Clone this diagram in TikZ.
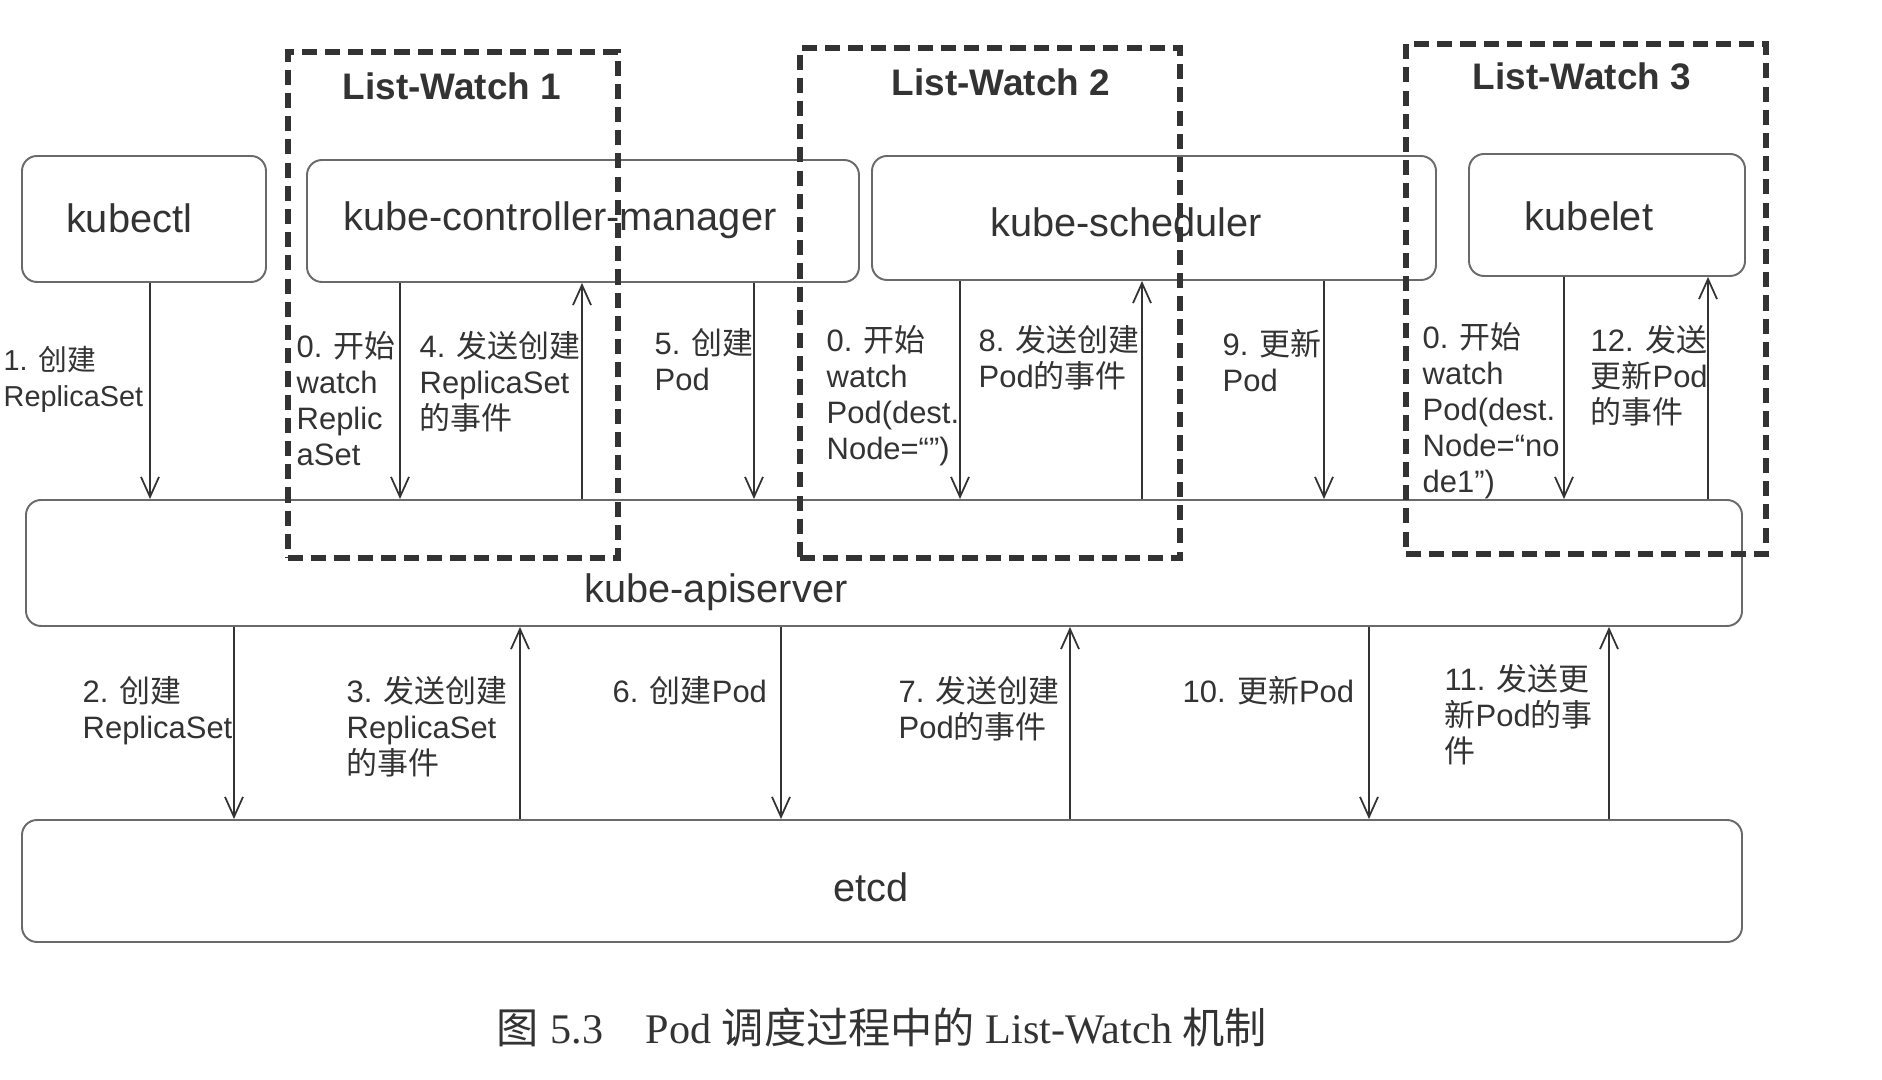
\documentclass[tikz,border=0pt]{standalone}
\usepackage{fontspec}
\setmainfont{Liberation Sans}
\newfontfamily\cjk{Noto Sans CJK SC}
\newfontfamily\capserif{Liberation Serif}
\usetikzlibrary{arrows.meta,fit}
\newcommand\zh[1]{{\cjk #1}}
\definecolor{ink}{HTML}{333333}
\definecolor{edge}{HTML}{6A6A6A}
\begin{document}
\begin{tikzpicture}[x=0.01cm,y=-0.01cm,
  box/.style={draw=edge, line width=0.55pt, rounded corners=0.15cm, inner sep=0pt},
  lwbox/.style={draw=ink, line width=1.5pt, dash pattern=on 4.3pt off 2.3pt, inner sep=0pt},
  main/.style={font=\fontsize{11.3pt}{13pt}\selectfont, text=ink, inner sep=0pt},
  title/.style={font=\fontsize{10.5pt}{12pt}\selectfont\bfseries, text=ink, inner sep=0pt},
  lbl/.style={font=\fontsize{8.8pt}{10.2pt}\selectfont, text=ink, align=left, inner sep=0pt, anchor=north west},
  arr/.style={draw=ink, line width=0.5pt, -{Straight Barb[length=0.2cm,width=0.18cm]}},
]
\fill[white] (0,0) rectangle (1882,1080);
\useasboundingbox (0,0) rectangle (1882,1080);

% component boxes
\node[box, fit={(22,156) (266,282)}] (kubectl) {};
\node[box, fit={(307,160) (859,282)}] (cm) {};
\node[box, fit={(872,156) (1436,280)}] (sched) {};
\node[box, fit={(1469,154) (1745,276)}] (kubelet) {};
\node[box, fit={(26,500) (1742,626)}] (api) {};
\node[box, fit={(22,820) (1742,942)}] (etcd) {};

% component names
\node[main] (t-kubectl) at (129,218) {kubectl};
\node[main] (t-cm) at (560,220) {kube-controller-manager};
\node[main] (t-sched) at (1126,222) {kube-scheduler};
\node[main] (t-kubelet) at (1589,216) {kubelet};
\node[main] (t-api) at (716,592) {kube-apiserver};
\node[main] (t-etcd) at (871,887) {etcd};

% upper arrows
\draw[arr] (150,0 |- kubectl.south) -- (150,0 |- api.north);
\draw[arr] (400,0 |- cm.south) -- (400,0 |- api.north);
\draw[arr] (582,0 |- api.north) -- (582,0 |- cm.south);
\draw[arr] (754,0 |- cm.south) -- (754,0 |- api.north);
\draw[arr] (960,0 |- sched.south) -- (960,0 |- api.north);
\draw[arr] (1142,0 |- api.north) -- (1142,0 |- sched.south);
\draw[arr] (1324,0 |- sched.south) -- (1324,0 |- api.north);
\draw[arr] (1564,0 |- kubelet.south) -- (1564,0 |- api.north);
\draw[arr] (1708,0 |- api.north) -- (1708,0 |- kubelet.south);

% lower arrows
\draw[arr] (234,0 |- api.south) -- (234,0 |- etcd.north);
\draw[arr] (520,0 |- etcd.north) -- (520,0 |- api.south);
\draw[arr] (781,0 |- api.south) -- (781,0 |- etcd.north);
\draw[arr] (1070,0 |- etcd.north) -- (1070,0 |- api.south);
\draw[arr] (1369,0 |- api.south) -- (1369,0 |- etcd.north);
\draw[arr] (1609,0 |- etcd.north) -- (1609,0 |- api.south);

% upper labels
\node[lbl, font=\fontsize{8.2pt}{10.2pt}\selectfont] (l1) at (3,346) {1. \zh{创建}\\ReplicaSet};
\node[lbl] (l0a) at (296,331) {0. \zh{开始}\\watch\\Replic\\aSet};
\node[lbl] (l4) at (419,331) {4. \zh{发送创建}\\ReplicaSet\\\zh{的事件}};
\node[lbl] (l5) at (654,328) {5. \zh{创建}\\Pod};
\node[lbl] (l0b) at (826,325) {0. \zh{开始}\\watch\\Pod(dest.\\Node=“”)};
\node[lbl] (l8) at (978,325) {8. \zh{发送创建}\\Pod\zh{的事件}};
\node[lbl] (l9) at (1222,329) {9. \zh{更新}\\Pod};
\node[lbl] (l0c) at (1422,322) {0. \zh{开始}\\watch\\Pod(dest.\\Node=“no\\de1”)};
\node[lbl] (l12) at (1590,325) {12. \zh{发送}\\\zh{更新}Pod\\\zh{的事件}};

% lower labels
\node[lbl] (l2) at (82,676) {2. \zh{创建}\\ReplicaSet};
\node[lbl] (l3) at (346,676) {3. \zh{发送创建}\\ReplicaSet\\\zh{的事件}};
\node[lbl] (l6) at (612,676) {6. \zh{创建}Pod};
\node[lbl] (l7) at (898,676) {7. \zh{发送创建}\\Pod\zh{的事件}};
\node[lbl] (l10) at (1182,676) {10. \zh{更新}Pod};
\node[lbl] (l11) at (1444,664) {11. \zh{发送更}\\\zh{新}Pod\zh{的事}\\\zh{件}};

% List-Watch groups
\node[lwbox, fit={(288,52) (618,558)}] (lw1) {};
\node[lwbox, fit={(800,48) (1180,558)}] (lw2) {};
\node[lwbox, fit={(1406,44) (1766,554)}] (lw3) {};
\node[title] (lw1t) at (452,86) {List-Watch 1};
\node[title] (lw2t) at (1001,82) {List-Watch 2};
\node[title] (lw3t) at (1582,76) {List-Watch 3};

% caption
\node[font=\fontsize{12pt}{14pt}\selectfont, text=ink, inner sep=0pt] (cap) at (882,1027)
  {\zh{图} \capserif 5.3\quad Pod \zh{调度过程中的} List-Watch \zh{机制}};
\end{tikzpicture}
\end{document}
